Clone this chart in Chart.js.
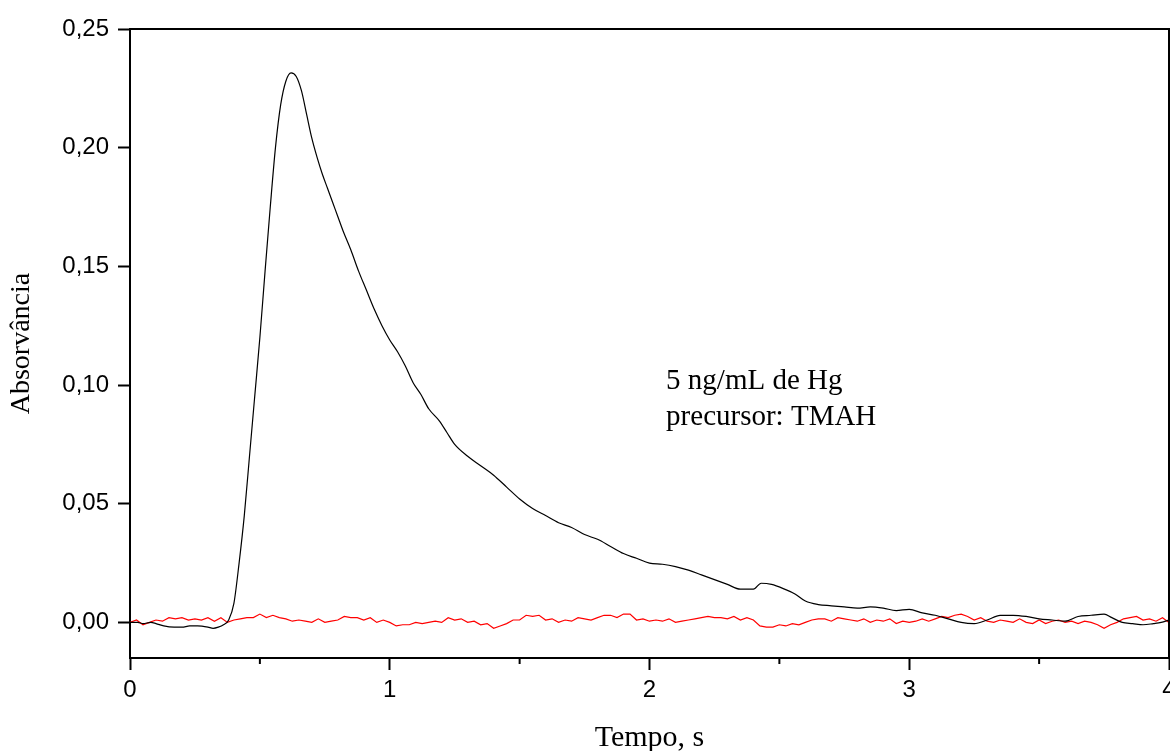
<!DOCTYPE html>
<html>
<head>
<meta charset="utf-8">
<script src="https://cdn.jsdelivr.net/npm/chart.js@4/dist/chart.umd.min.js"></script>
<style>
  html, body { margin: 0; padding: 0; background: #fff; }
  #wrap { width: 1170px; height: 751px; }
</style>
</head>
<body>
<div id="wrap"><canvas id="chart"></canvas></div>
<script>
// black trace: Hg sample (time in s, absorbance)
const timeSample = [
  0.00, 0.03, 0.05, 0.08, 0.10, 0.13, 0.17, 0.20, 0.23, 0.26, 0.30, 0.32, 0.34, 0.36, 0.38,
  0.40, 0.42, 0.44, 0.46, 0.48, 0.50, 0.52, 0.54, 0.56, 0.58, 0.60, 0.62, 0.64, 0.66, 0.68,
  0.70, 0.72, 0.74, 0.76, 0.78, 0.80, 0.82, 0.85, 0.88, 0.91, 0.94, 0.97, 1.00, 1.03, 1.06,
  1.09, 1.12, 1.15, 1.19, 1.22, 1.25, 1.30, 1.35, 1.40, 1.45, 1.50, 1.55, 1.60, 1.65, 1.70,
  1.75, 1.80, 1.85, 1.90, 1.95, 2.00, 2.05, 2.10, 2.15, 2.20, 2.25, 2.30, 2.35, 2.40, 2.43,
  2.47, 2.52, 2.56, 2.60, 2.65, 2.70, 2.75, 2.80, 2.85, 2.90, 2.95, 3.00, 3.05, 3.10, 3.15,
  3.20, 3.25, 3.30, 3.35, 3.40, 3.45, 3.50, 3.55, 3.60, 3.65, 3.70, 3.75, 3.78, 3.82, 3.86,
  3.90, 3.94, 3.97, 4.00
];
const absSample = [
  0.000, 0.000, -0.0005, 0.000, -0.0005, -0.0015, -0.002, -0.002, -0.0015, -0.0015, -0.002, -0.0025, -0.002, -0.001, 0.001,
  0.008, 0.025, 0.045, 0.070, 0.095, 0.120, 0.148, 0.175, 0.200, 0.218, 0.228, 0.2315, 0.230, 0.224, 0.214,
  0.204, 0.196, 0.189, 0.183, 0.177, 0.171, 0.165, 0.157, 0.148, 0.140, 0.132, 0.125, 0.119, 0.114, 0.108,
  0.101, 0.096, 0.090, 0.085, 0.080, 0.075, 0.070, 0.066, 0.062, 0.057, 0.052, 0.048, 0.045, 0.042, 0.040,
  0.037, 0.035, 0.032, 0.029, 0.027, 0.025, 0.0245, 0.0235, 0.022, 0.020, 0.018, 0.016, 0.014, 0.014, 0.0165,
  0.016, 0.014, 0.012, 0.009, 0.0075, 0.007, 0.0065, 0.006, 0.0065, 0.006, 0.005, 0.0055, 0.004, 0.003, 0.0015,
  0.000, -0.0005, 0.001, 0.003, 0.003, 0.0025, 0.0015, 0.001, 0.0005, 0.0025, 0.003, 0.0035, 0.002, 0.000, -0.0005,
  -0.001, -0.0005, 0.000, 0.001
];

// red trace: blank, sampled every 0.025 s from 0 to 4 s
const blankStep = 0.025;
const absBlank = [
  0.000, 0.001, -0.001, 0.000, 0.001, 0.0005, 0.002, 0.0015, 0.002, 0.001,
  0.0015, 0.001, 0.002, 0.0005, 0.002, 0.000, 0.001, 0.0015, 0.002, 0.002,
  0.0035, 0.002, 0.003, 0.002, 0.0015, 0.0005, 0.001, 0.0005, 0.000, 0.0015,
  0.000, 0.0005, 0.001, 0.0025, 0.002, 0.002, 0.001, 0.002, 0.000, 0.001,
  0.000, -0.0015, -0.001, -0.001, 0.000, -0.0005, 0.000, 0.0005, 0.000, 0.002,
  0.001, 0.0015, 0.000, 0.0005, -0.001, -0.0005, -0.0025, -0.0015, -0.0005, 0.001,
  0.001, 0.003, 0.0025, 0.003, 0.001, 0.0015, 0.000, 0.001, 0.0005, 0.002,
  0.0015, 0.001, 0.002, 0.003, 0.003, 0.002, 0.0035, 0.0035, 0.001, 0.0015,
  0.0005, 0.001, 0.0005, 0.0015, 0.000, 0.0005, 0.001, 0.0015, 0.002, 0.0025,
  0.002, 0.002, 0.0015, 0.0025, 0.001, 0.002, 0.001, -0.0015, -0.002, -0.002,
  -0.001, -0.0015, -0.0005, -0.001, 0.000, 0.001, 0.0015, 0.0015, 0.0005, 0.002,
  0.0015, 0.001, 0.0005, 0.0015, 0.000, 0.001, 0.0005, 0.0015, -0.0005, 0.0005,
  0.000, 0.0005, 0.0015, 0.0005, 0.0015, 0.0025, 0.002, 0.003, 0.0035, 0.0025,
  0.001, 0.002, 0.0005, 0.000, 0.001, 0.0005, 0.000, 0.0015, 0.000, -0.0005,
  0.001, -0.0005, 0.0005, 0.001, 0.000, 0.0005, -0.0005, 0.0005, 0.000, -0.001,
  -0.0025, -0.001, 0.000, 0.0015, 0.002, 0.0025, 0.001, 0.0015, 0.0005, 0.002,
  0.000
];

const xTickValues = [0, 1, 2, 3, 4];
const xMinorTicks = [0.5, 1.5, 2.5, 3.5];
const yTickValues = [0, 0.05, 0.10, 0.15, 0.20, 0.25];
const noteLines = ['5 ng/mL de Hg', 'precursor: TMAH'];
const notePos = { x: 2.064, y: [0.0983, 0.0831] };

const sampleData = timeSample.map((t, i) => ({ x: t, y: absSample[i] }));
const blankData = absBlank.map((v, i) => ({ x: i * blankStep, y: v }));

const sansFont = "'Liberation Sans', Arial, sans-serif";
const serifFont = "'Liberation Serif', 'Times New Roman', serif";

// top/right frame, minor x ticks and the text note
const extras = {
  id: 'extras',
  afterDraw(chart) {
    const { ctx, chartArea: a, scales } = chart;
    ctx.save();
    ctx.strokeStyle = '#000';
    ctx.lineWidth = 2;
    ctx.beginPath();
    ctx.moveTo(a.left, a.top);
    ctx.lineTo(a.right, a.top);
    ctx.lineTo(a.right, a.bottom);
    ctx.stroke();

    xMinorTicks.forEach(v => {
      const px = scales.x.getPixelForValue(v);
      ctx.beginPath();
      ctx.moveTo(px, a.bottom);
      ctx.lineTo(px, a.bottom + 6);
      ctx.stroke();
    });

    ctx.fillStyle = '#000';
    ctx.font = '29px ' + serifFont;
    ctx.textBaseline = 'alphabetic';
    ctx.textAlign = 'left';
    noteLines.forEach((txt, i) => {
      ctx.fillText(txt, scales.x.getPixelForValue(notePos.x), scales.y.getPixelForValue(notePos.y[i]));
    });
    ctx.restore();
  }
};

new Chart(document.getElementById('chart'), {
  type: 'line',
  data: {
    datasets: [
      {
        data: sampleData,
        borderColor: '#000',
        borderWidth: 1.2,
        pointRadius: 0,
        cubicInterpolationMode: 'monotone'
      },
      {
        data: blankData,
        borderColor: '#ff0000',
        borderWidth: 1.2,
        pointRadius: 0,
        tension: 0
      }
    ]
  },
  options: {
    responsive: true,
    maintainAspectRatio: false,
    animation: false,
    layout: { autoPadding: false, padding: { top: 29, right: 1, left: 0, bottom: 0 } },
    plugins: { legend: { display: false }, tooltip: { enabled: false } },
    scales: {
      x: {
        type: 'linear',
        min: 0,
        max: 4,
        afterBuildTicks: s => { s.ticks = xTickValues.map(v => ({ value: v })); },
        afterFit: s => { s.height = 93; s.paddingLeft = 0; s.paddingRight = 0; },
        border: { color: '#000', width: 2 },
        grid: { drawOnChartArea: false, tickLength: 12, tickWidth: 2, tickColor: '#000' },
        ticks: {
          color: '#000',
          padding: 6,
          maxRotation: 0,
          font: { family: sansFont, size: 24 },
          callback: v => String(v)
        },
        title: {
          display: true,
          text: 'Tempo, s',
          color: '#000',
          font: { family: serifFont, size: 30 },
          padding: { top: 0, bottom: -5 }
        }
      },
      y: {
        type: 'linear',
        min: -0.015,
        max: 0.25,
        afterBuildTicks: s => { s.ticks = yTickValues.map(v => ({ value: v })); },
        afterFit: s => { s.width = 130; s.paddingTop = 0; s.paddingBottom = 0; },
        border: { color: '#000', width: 2 },
        grid: { drawOnChartArea: false, tickLength: 12, tickWidth: 2, tickColor: '#000' },
        ticks: {
          color: '#000',
          padding: 9,
          font: { family: sansFont, size: 24 },
          callback: v => v.toFixed(2).replace('.', ',')
        },
        title: {
          display: true,
          text: 'Absorvância',
          color: '#000',
          font: { family: serifFont, size: 28 },
          padding: { top: 5, bottom: 0 }
        }
      }
    }
  },
  plugins: [extras]
});
</script>
</body>
</html>
